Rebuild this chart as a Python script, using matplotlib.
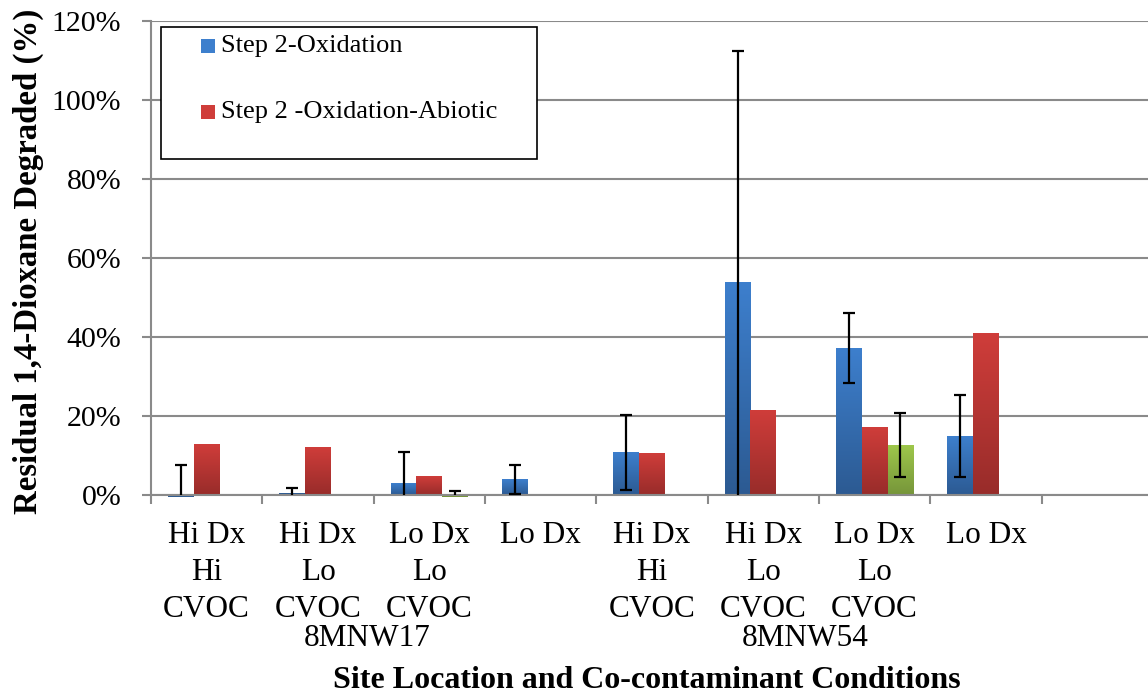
import numpy as np
import matplotlib
matplotlib.use("Agg")
import matplotlib.pyplot as plt
from matplotlib.colors import LinearSegmentedColormap
from matplotlib.patches import Rectangle
from matplotlib.ticker import FuncFormatter, FixedLocator

plt.rcParams['font.family'] = ['Liberation Serif', 'DejaVu Serif']

nan = np.nan
categories = ["Hi Dx\nHi\nCVOC", "Hi Dx\nLo\nCVOC", "Lo Dx\nLo\nCVOC", "Lo Dx",
              "Hi Dx\nHi\nCVOC", "Hi Dx\nLo\nCVOC", "Lo Dx\nLo\nCVOC", "Lo Dx", ""]
oxidation = [-0.5, 0.5, 3.0, 3.9, 10.7, 53.7, 37.2, 14.9, nan]
oxidation_err = [8.1, 1.35, 7.9, 3.6, 9.5, 58.7, 8.75, 10.35, nan]
abiotic = [12.7, 11.9, 4.8, nan, 10.4, 21.3, 17.0, 41.0, nan]
third = [nan, nan, -0.5, nan, nan, nan, 12.6, nan, nan]
third_err = [nan, nan, 1.6, nan, nan, nan, 8.05, nan, nan]
sites = ["8MNW17", "8MNW54"]
site_pos = [1.44, 5.38]
series_names = ["Step 2-Oxidation", "Step 2 -Oxidation-Abiotic"]

W, H = 1148, 694
fig = plt.figure(figsize=(W / 100, H / 100), dpi=100)
ax = fig.add_axes([151 / W, 1 - 495 / H, (1153 - 151) / W, (495 - 21) / H])

x = np.arange(len(categories))
bw = 0.231
gray = '#8a8a8a'

styles = [
    ('#3d7fcd', '#2c5a92'),
    ('#cf3d3a', '#982c2a'),
    ('#9ec74b', '#76953a'),
]

def gradient_bars(bars, top, bottom):
    cmap = LinearSegmentedColormap.from_list('g', [bottom, top])
    img = np.linspace(0, 1, 128).reshape(-1, 1)
    for p in bars:
        h = p.get_height()
        if not np.isfinite(h):
            continue
        x0, y0 = p.get_xy()
        w = p.get_width()
        lo, hi = min(y0, y0 + h), max(y0, y0 + h)
        p.set_clip_on(False)
        if hi - lo > 0.5:
            ax.imshow(img, extent=[x0, x0 + w, lo, hi], origin='lower', cmap=cmap,
                      aspect='auto', zorder=2.1, interpolation='bilinear')

data = [oxidation, abiotic, third]
offsets = [-bw, 0, bw]
for vals, off, (top, bot) in zip(data, offsets, styles):
    bars = ax.bar(x + off, vals, width=bw, color=bot, zorder=2, linewidth=0)
    gradient_bars(bars, top, bot)

ecfg = dict(fmt='none', ecolor='black', elinewidth=1.6, capsize=4.3, capthick=1.6, zorder=3)
ax.errorbar(x - bw, oxidation, yerr=oxidation_err, **ecfg)
ax.errorbar(x + bw, third, yerr=third_err, **ecfg)

ax.set_xlim(-0.5, len(categories) - 0.5)
ax.set_ylim(0, 120)
ax.set_aspect('auto')

ax.yaxis.set_major_locator(FixedLocator(np.arange(0, 121, 20)))
ax.yaxis.set_major_formatter(FuncFormatter(lambda v, p: f"{int(round(v))}%"))
ax.grid(axis='y', color=gray, linewidth=1.5)
ax.set_axisbelow(True)

ax.set_xticks(x)
ax.set_xticklabels(categories, fontsize=22.5, linespacing=1.37)
ax.set_xticks(np.arange(-0.5, len(categories)), minor=True)
ax.tick_params(axis='x', which='major', length=0, pad=18.5)
ax.tick_params(axis='x', which='minor', length=6.5, width=1.5, color=gray)
ax.tick_params(axis='y', length=6.5, width=1.5, color=gray, labelsize=21.5, pad=15)

for s in ['top', 'right']:
    ax.spines[s].set_visible(False)
for s in ['left', 'bottom']:
    ax.spines[s].set_color(gray)
    ax.spines[s].set_linewidth(1.5)

site_y = -(638 - 495) / (495 - 21)
for name, pos in zip(sites, site_pos):
    ax.text(pos, site_y, name, transform=ax.get_xaxis_transform(), fontsize=22.5,
            ha='center', va='center')

fig.text(647 / W, 1 - 680 / H, "Site Location and Co-contaminant Conditions",
         fontsize=23, fontweight='bold', ha='center', va='center')
fig.text(28 / W, 1 - 261 / H, "Residual 1,4-Dioxane Degraded (%)", rotation=90,
         fontsize=23.6, fontweight='bold', ha='center', va='center')

# legend box
tf = fig.transFigure
fig.patches.append(Rectangle((161 / W, 1 - 159 / H), (537 - 161) / W, (159 - 27) / H,
                             transform=tf, facecolor='white', edgecolor='black',
                             linewidth=1.2, zorder=5))
for name, (top, bot), yc in zip(series_names, styles[:2], [46, 112]):
    fig.patches.append(Rectangle((201 / W, 1 - (yc + 7) / H), 14 / W, 14 / H,
                                 transform=tf, facecolor=top, edgecolor='none', zorder=6))
    fig.text(221 / W, 1 - yc / H, name, fontsize=19, ha='left', va='center', zorder=7)

fig.savefig("out.png", dpi=100)
